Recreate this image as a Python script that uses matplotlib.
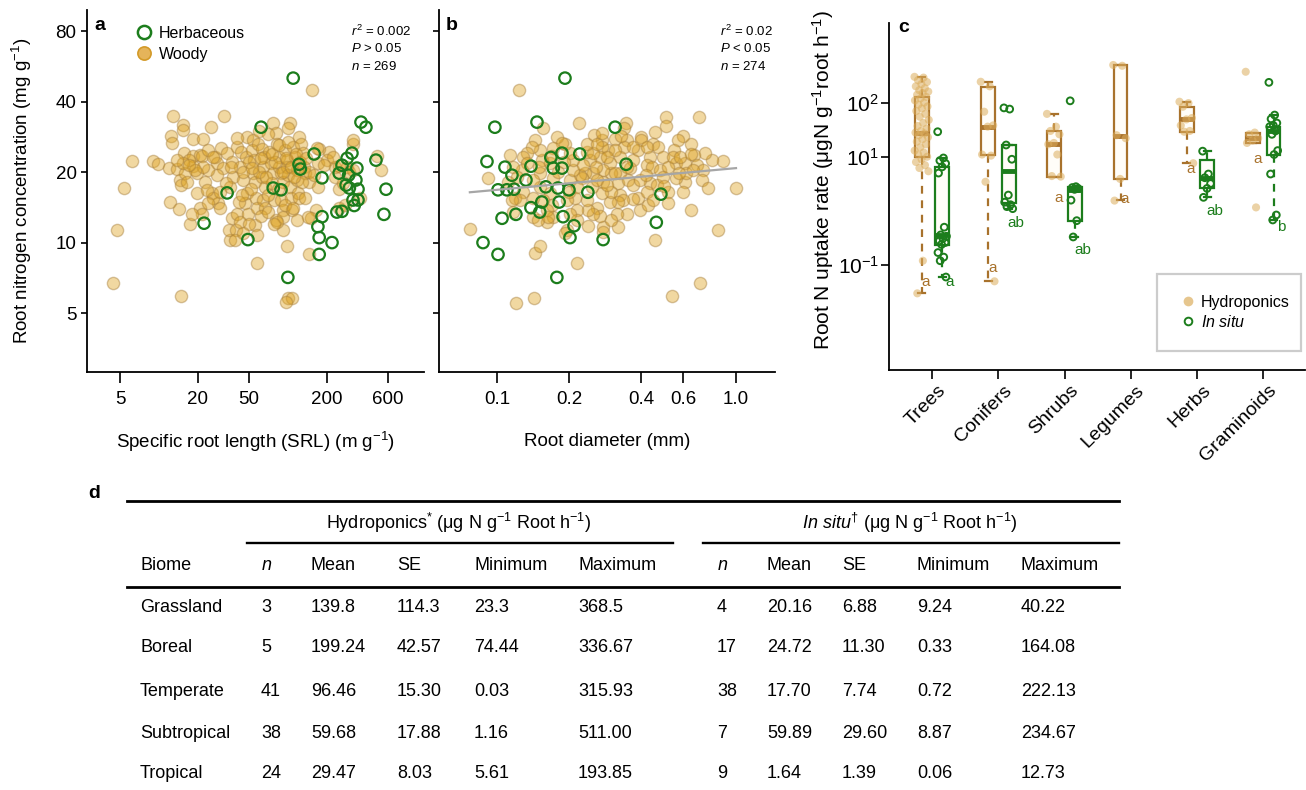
import numpy as np
import matplotlib
matplotlib.use("Agg")
import matplotlib.pyplot as plt
from matplotlib.lines import Line2D
from matplotlib.patches import Rectangle
from matplotlib.ticker import FixedLocator, NullLocator, FixedFormatter
import matplotlib.transforms as mtransforms

plt.rcParams['font.family'] = ['Liberation Sans', 'DejaVu Sans']
plt.rcParams['mathtext.fontset'] = 'custom'
plt.rcParams['mathtext.rm'] = 'Liberation Sans'
plt.rcParams['mathtext.it'] = 'Liberation Sans:italic'
plt.rcParams['mathtext.bf'] = 'Liberation Sans:bold'

# ---------------- data: panel a (SRL vs root N) ----------------
a_woody_srl = [4.4, 4.7, 5.4, 6.2, 14.9, 154, 100, 108, 97, 58, 99, 146, 35.5, 17.4, 12.1, 14.3,
               12.9, 15.5, 15.5, 12.4, 12.6, 32, 25.4, 18.4, 21.9, 77, 81, 103, 101, 48.5, 54, 123,
               320, 493, 530, 208, 175, 147, 171, 232, 362, 165, 150, 9, 9.8, 11.9, 13.7, 14.6,
               14.9, 15.7, 18.4, 18.4, 19.6, 20.8, 21.5, 19.6, 20.8, 21.5, 22.7, 25.8, 27, 28.1,
               28.6, 29.7, 30.3, 31.5, 33.8, 37, 37.7, 35.5, 37, 35, 39.6, 40.5, 40.5, 43.2, 47.5,
               42.4, 45, 48.5, 46.4, 49, 41.6, 52.7, 54.8, 53.7, 55.7, 56.8, 57.9, 55.7, 59, 63,
               65.5, 64.3, 63, 66.8, 64.3, 66.8, 72, 73.4, 76.3, 75, 78, 81, 82.5, 85.7, 86, 89,
               91, 89, 91, 91, 95, 98, 98, 100, 103, 106, 108, 110, 114, 117, 118, 120, 123, 127,
               130, 133, 137, 128, 137, 168, 171, 200, 232, 224, 320, 288, 277, 251, 143, 91, 83,
               42.4, 38.9, 26.2, 24.1, 23.7, 16, 16.5, 17.1, 24.1, 26.2, 18.1, 15.5, 13.9,
               45, 50, 52, 60, 62, 68, 70, 80, 84, 92, 96, 105, 112, 115, 125, 62, 70, 78, 44, 36,
               33, 28, 24, 22, 19, 17, 30, 50, 58, 45, 53, 75, 86, 101, 138, 145, 160, 190, 250,
               270, 300, 60, 70, 40, 95, 110, 118, 251, 320]
a_woody_n = [6.7, 11.3, 17.1, 22.2, 5.9, 44.8, 5.8, 5.8, 5.6, 8.2, 9.7, 8.9, 10.3, 12, 14.9, 13.9,
             34.7, 31.8, 30.2, 28.6, 26.7, 34.7, 31.1, 27.6, 27.6, 32.4, 29.3, 32.4, 30.9, 28.2, 27.4, 28.2,
             26.4, 23.4, 20.4, 24.3, 25, 18.2, 17.3, 19, 15.5, 13.8, 12.7, 22.2, 21.6, 20.8, 20.6, 18.5,
             17.6, 24.1, 23.4, 21.2, 19.8, 23.7, 23.4, 16.3, 14.1, 13.3, 18.2, 16.3, 23.1, 21.8,
             14.7, 14, 25.3, 20.8, 24.1, 22, 19, 17.3, 12.7, 11.3, 11.3, 13.3, 25.6, 24.3, 23.1,
             21, 18.5, 16.3, 14.7, 13.3, 14.9, 24.8, 22.5, 19.8, 18.2, 15.5, 14.1, 11.9, 26.4, 25,
             23.1, 21, 19, 17.3, 15.2, 14, 24.3, 21.8, 19.8, 18, 15.2, 12.5, 26.4, 23.1, 21, 19.8,
             18.2, 15.2, 13.8, 12.9, 24.8, 22.5, 21, 19.4, 17.3, 15.5, 13.8, 25.6, 23.1, 20.4, 18.5, 16.3, 15.5, 26.4,
             24.1, 21, 19.8, 18.2, 15.5, 25.3, 21.8, 22.5, 21, 23.1, 27.4, 21, 14.4, 14, 12.9, 11.3, 12.3,
             12.3, 10.3, 15.5, 14.7, 16.8, 19.8, 18.2, 22.5, 24.8, 23.1, 13.3, 21.8, 22.5,
             20, 22, 17, 20, 23, 19, 16, 22, 17, 20, 23, 21, 19, 24, 22, 13, 13.5, 12, 16, 21,
             18, 19.5, 20.5, 21, 20.5, 21.5, 16.5, 12, 10.8, 11, 20.8, 24, 26, 27, 23, 20, 19.5, 21.5, 17,
             18, 20, 30, 29, 28, 14.5, 14, 12.5, 21.2, 20.4]
a_herb_srl = [110, 62, 369, 403, 160, 122, 125, 184, 314, 288, 263, 343, 250, 296, 337, 283, 300,
              350, 320, 350, 327, 240, 263, 482, 577, 556, 184, 171, 175, 220, 175, 100, 88.5, 77,
              33.8, 22.4, 49]
a_herb_n = [50.4, 31.1, 32.7, 31.1, 23.9, 21.6, 20.6, 18.9, 24.1, 22.9, 21.4, 20.8, 19.8, 19.4, 18.5,
            17.6, 17.1, 16.9, 15.2, 15.2, 14.4, 13.5, 13.6, 22.5, 16.9, 13.2, 12.9, 11.7, 10.5, 10,
            8.9, 7.1, 16.8, 17.1, 16.3, 12.1, 10.3]

# ---------------- data: panel b (diameter vs root N) ----------------
b_woody_d = [0.1236, 0.077, 0.0917, 0.120, 0.143, 0.54, 0.71, 0.84, 1.0, 0.70, 0.51, 0.51, 0.22, 0.156,
             0.347, 0.34, 0.65, 0.46, 0.216, 0.144, 0.151, 0.278, 0.278, 0.32, 0.88, 0.79, 0.74, 0.67,
             0.65, 0.60, 0.57, 0.55, 0.56, 0.61, 0.69, 0.73, 0.72, 0.76, 0.61, 0.56, 0.52, 0.52, 0.46,
             0.45, 0.47, 0.437, 0.424, 0.446, 0.481, 0.437, 0.467, 0.40, 0.40, 0.39, 0.37, 0.36, 0.39,
             0.396, 0.37, 0.43, 0.35, 0.34, 0.327, 0.327, 0.32, 0.327, 0.337, 0.35, 0.318, 0.32, 0.297,
             0.30, 0.30, 0.297, 0.29, 0.275, 0.255, 0.275, 0.27, 0.278, 0.278, 0.275, 0.262, 0.27,
             0.252, 0.24, 0.238, 0.25, 0.252, 0.245, 0.238, 0.252, 0.233, 0.227, 0.222, 0.216, 0.212,
             0.216, 0.216, 0.196, 0.202, 0.196, 0.202, 0.208, 0.208, 0.202, 0.192, 0.178, 0.187, 0.172,
             0.167, 0.172, 0.167, 0.170, 0.172, 0.162, 0.162, 0.156, 0.151, 0.151, 0.154, 0.151, 0.144,
             0.14, 0.134, 0.129, 0.134, 0.127, 0.141, 0.129, 0.119, 0.125, 0.141, 0.141, 0.148, 0.163,
             0.192, 0.117, 0.121, 0.111, 0.116, 0.117, 0.113, 0.238, 0.262, 0.275, 0.312, 0.312, 0.289,
             0.262, 0.289, 0.312, 0.353, 0.37, 0.396, 0.424, 0.45, 0.495, 0.52, 0.545, 0.583, 0.62,
             0.66, 0.58, 0.495, 0.424, 0.37, 0.18, 0.19, 0.23, 0.26, 0.35, 0.42, 0.5, 0.6, 0.65, 0.15,
             0.2, 0.17, 0.24, 0.3, 0.33]
b_woody_n = [44.8, 11.4, 18.9, 5.5, 5.8, 5.9, 6.7, 11.3, 17.1, 34.3, 34.3, 31.5, 32.4, 30.9,
             32.4, 30.9, 13.8, 10.3, 8.2, 9, 9.7, 11.7, 11.1, 11.6, 22.2, 22.5, 24.1, 23.7,
             26.4, 28.6, 27.4, 24.8, 21.8, 21.8, 21.4, 20.4, 18.5, 17.1, 18.2, 18.9, 16.4, 14.7, 29.6,
             26.4, 25.6, 23.1, 21.4, 21, 20.4, 18, 17.6, 28.2, 27.4, 24.8, 22.5, 20.8, 15.5,
             13.8, 15.4, 14.4, 27.4, 25.6, 23.1, 19.8, 18, 16, 15.2, 13.3, 13.3, 14.9, 14.9,
             16.4, 19.8, 21.8, 24.8, 27.4, 28.9, 25.6, 23.1, 20.4, 18.2, 16.3, 14.1, 13,
             13.3, 13.8, 15.2, 17.3, 19.8, 22.5, 24.3, 24.1, 19.8, 18.9, 19.4, 17.3, 15.5,
             13.8, 12.5, 11.3, 13.3, 15.2, 18.5, 20.4, 22.5, 24.1, 26.4, 28.2, 26.7, 25.3,
             21.8, 18.9, 16.3, 14.4, 12.9, 12.2, 13.8, 15.2, 17.3, 19.8, 22.5, 24.8, 27.4,
             25.6, 24.1, 23.1, 21.8, 20.4, 18.5, 16.4, 15.5, 15.2, 15.5, 12.9, 12.5, 12.9,
             11, 21, 19, 18.2, 15.2, 13.5, 23.7, 26.4, 26.4, 29.3, 27.6, 24.8, 23.1,
             18.5, 17.6, 19.8, 18.5, 17.6, 18.5, 16.4, 15.2, 23.1, 21, 23.1, 23.1, 19.8,
             20.4, 19.8, 19, 25.6, 25.6, 20, 22, 21.5, 21, 21, 19.5, 17.5, 16.5, 24, 21,
             16.5, 23.5, 11.8, 12.5, 28.5]
b_herb_d = [0.1925, 0.098, 0.147, 0.312, 0.0908, 0.108, 0.1155, 0.1387, 0.1322, 0.101, 0.110, 0.1178,
            0.160, 0.168, 0.172, 0.187, 0.187, 0.222, 0.180, 0.2, 0.24, 0.347, 0.485, 0.154, 0.1387,
            0.151, 0.182, 0.120, 0.105, 0.189, 0.21, 0.202, 0.278, 0.464, 0.0874, 0.101, 0.178]
b_herb_n = [50.4, 31.1, 32.7, 31.1, 22.2, 21, 19.4, 21.2, 18.5, 16.8, 16.8, 16.9,
            17.3, 23.1, 20.8, 20.8, 24.1, 23.9, 17.1, 16.8, 16.4, 21.6, 16.1, 14.9, 14.1,
            13.5, 14.9, 13.2, 12.7, 12.9, 11.8, 10.5, 10.3, 12.2, 10, 8.9, 7.1]
b_trend_d = [0.077, 1.0]
b_trend_n = [16.4, 20.8]

# ---------------- data: panel c (uptake by plant group) ----------------
groups = ['Trees', 'Conifers', 'Shrubs', 'Legumes', 'Herbs', 'Graminoids']
# box stats: whisker low, q1, median, q3, whisker high
hydro_stats = [(0.03, 10, 28, 128, 300),
               (0.05, 11, 36, 197, 243),
               (4.3, 4.3, 17, 30, 62),
               (1.58, 3.9, 24, 496, 496),
               (7.6, 29, 49, 84, 104),
               (17.7, 17.7, 22, 28, 28)]
insitu_stats = [(0.06, 0.23, 0.36, 6.5, 9.5),
                (1.1, 1.38, 5.4, 16.5, 16.5),
                (0.33, 0.66, 2.4, 2.8, 2.8),
                None,
                (1.78, 2.6, 4.1, 8.7, 12.9),
                (0.68, 10.7, 30, 36, 59)]
hydro_pts = [[300, 290, 260, 240, 220, 200, 185, 170, 160, 150, 140, 128, 120, 110, 100, 92, 85, 78,
              70, 62, 55, 48, 42, 37, 33, 30, 28, 27, 25, 23, 21, 19, 17, 15, 13, 12, 11, 10, 9, 8,
              7, 6.2, 5.4, 0.12, 0.03],
             [243, 200, 68, 38, 36, 11, 10.5, 3.45, 0.05],
             [62, 36, 30, 26, 18, 17, 11, 4.4, 4.3],
             [496, 480, 25, 22, 3.9, 1.55],
             [104, 98, 84, 52, 49, 38, 30, 29, 7.6],
             [372, 28, 26, 22, 20, 18, 1.16]]
insitu_pts = [[29, 9.5, 8.5, 7.5, 6.5, 5, 0.5, 0.36, 0.34, 0.31, 0.28, 0.26, 0.24, 0.17, 0.14, 0.12, 0.06],
              [80, 76, 16.5, 9, 1.96, 1.45, 1.3, 1.2, 1.1],
              [108, 2.8, 2.7, 2.6, 2.5, 1.58, 0.66, 0.33],
              [],
              [12.7, 4.8, 4.1, 3.2, 2.6, 1.78],
              [237, 59, 50, 42, 38, 36, 30, 26, 13, 11, 4.8, 0.84, 0.68]]
hydro_letters = ['a', 'a', 'a', 'a', 'a', 'a']
hydro_letter_y = [0.049, 0.088, 1.75, 1.65, 5.9, 9.1]
insitu_letters = ['a', 'ab', 'ab', None, 'ab', 'b']
insitu_letter_y = [0.049, 0.6, 0.19, None, 0.99, 0.51]

# ---------------- data: panel d (table) ----------------
biomes = ['Grassland', 'Boreal', 'Temperate', 'Subtropical', 'Tropical']
hydro_n = ['3', '5', '41', '38', '24']
hydro_mean = ['139.8', '199.24', '96.46', '59.68', '29.47']
hydro_se = ['114.3', '42.57', '15.30', '17.88', '8.03']
hydro_min = ['23.3', '74.44', '0.03', '1.16', '5.61']
hydro_max = ['368.5', '336.67', '315.93', '511.00', '193.85']
insitu_n = ['4', '17', '38', '7', '9']
insitu_mean = ['20.16', '24.72', '17.70', '59.89', '1.64']
insitu_se = ['6.88', '11.30', '7.74', '29.60', '1.39']
insitu_min = ['9.24', '0.33', '0.72', '8.87', '0.06']
insitu_max = ['40.22', '164.08', '222.13', '234.67', '12.73']

# ---------------- styling ----------------
W, H = 1306, 790
WOODY_FACE = (0.87, 0.64, 0.13, 0.42)
WOODY_EDGE = (0.66, 0.50, 0.24, 0.45)
GREEN = '#1c7d1c'
BROWN = '#a8722c'
TAN = '#dcae5e'


def fx(px):
    return px / W


def fy(py):
    return 1 - py / H


fig = plt.figure(figsize=(W / 100, H / 100), dpi=100)


def style_axes(ax, xlen, ylen):
    for s in ['top', 'right']:
        ax.spines[s].set_visible(False)
    for s in ['left', 'bottom']:
        ax.spines[s].set_linewidth(1.3)
    ax.tick_params(axis='x', length=xlen, width=1.2, pad=6)
    ax.tick_params(axis='y', length=ylen, width=1.2, pad=3)
    ax.minorticks_off()


# panel a
ax_a = fig.add_axes([fx(87), fy(372), fx(424) - fx(87), fy(10) - fy(372)])
ax_a.set_xscale('log')
ax_a.set_yscale('log')
ax_a.scatter(a_woody_srl, a_woody_n, s=78, facecolor=WOODY_FACE, edgecolor=WOODY_EDGE, linewidth=1.0, zorder=2)
ax_a.scatter(a_herb_srl, a_herb_n, s=68, facecolor='none', edgecolor=GREEN, linewidth=1.6, zorder=3)
ax_a.set_xlim(2.77, 1137)
ax_a.set_ylim(2.8, 98.5)
style_axes(ax_a, 8, 4.5)
ax_a.xaxis.set_major_locator(FixedLocator([5, 20, 50, 200, 600]))
ax_a.xaxis.set_major_formatter(FixedFormatter(['5', '20', '50', '200', '600']))
ax_a.xaxis.set_minor_locator(NullLocator())
ax_a.yaxis.set_major_locator(FixedLocator([5, 10, 20, 40, 80]))
ax_a.yaxis.set_major_formatter(FixedFormatter(['5', '10', '20', '40', '80']))
ax_a.yaxis.set_minor_locator(NullLocator())
ax_a.tick_params(labelsize=13.5)
ax_a.set_xlabel('Specific root length (SRL) (m g$^{-1}$)', fontsize=13.5, va='center')
ax_a.xaxis.set_label_coords(0.5, -0.193)
ax_a.set_ylabel('Root nitrogen concentration (mg g$^{-1}$)', fontsize=13.5, va='center')
ax_a.yaxis.set_label_coords(-0.193, 0.5)
leg_handles = [Line2D([], [], marker='o', ls='none', ms=9.5, mfc='none', mec=GREEN, mew=1.8),
               Line2D([], [], marker='o', ls='none', ms=9.5, mfc='#e5b45a', mec='#d39a28', mew=1.2)]
ax_a.legend(leg_handles, ['Herbaceous', 'Woody'], loc='upper left', bbox_to_anchor=(0.092, 1.0),
            frameon=False, fontsize=11.5, handletextpad=0.35, labelspacing=0.38, borderaxespad=0.6,
            handlelength=1.2)

# panel b
ax_b = fig.add_axes([fx(439), fy(372), fx(775) - fx(439), fy(10) - fy(372)])
ax_b.set_xscale('log')
ax_b.set_yscale('log')
ax_b.scatter(b_woody_d, b_woody_n, s=78, facecolor=WOODY_FACE, edgecolor=WOODY_EDGE, linewidth=1.0, zorder=2)
ax_b.scatter(b_herb_d, b_herb_n, s=68, facecolor='none', edgecolor=GREEN, linewidth=1.6, zorder=3)
ax_b.plot(b_trend_d, b_trend_n, color='#a6a6a6', lw=1.6, zorder=4)
ax_b.set_xlim(0.0572, 1.456)
ax_b.set_ylim(2.8, 98.5)
style_axes(ax_b, 8, 4.5)
ax_b.xaxis.set_major_locator(FixedLocator([0.1, 0.2, 0.4, 0.6, 1.0]))
ax_b.xaxis.set_major_formatter(FixedFormatter(['0.1', '0.2', '0.4', '0.6', '1.0']))
ax_b.xaxis.set_minor_locator(NullLocator())
ax_b.yaxis.set_major_locator(FixedLocator([5, 10, 20, 40, 80]))
ax_b.yaxis.set_major_formatter(FixedFormatter([''] * 5))
ax_b.yaxis.set_minor_locator(NullLocator())
ax_b.tick_params(labelsize=13.5)
ax_b.set_xlabel('Root diameter (mm)', fontsize=13.5, va='center')
ax_b.xaxis.set_label_coords(0.5, -0.193)

# stats text a / b
for x0, lines in [(351, ['$r^2$ = 0.002', '$P$ > 0.05', '$n$ = 269']),
                  (720, ['$r^2$ = 0.02', '$P$ < 0.05', '$n$ = 274'])]:
    for py, t in zip([31, 48, 66], lines):
        fig.text(fx(x0), fy(py), t, fontsize=9.5, ha='left', va='center')

# panel c
ax_c = fig.add_axes([fx(889), fy(370), fx(1305) - fx(889), fy(23) - fy(370)])
ax_c.set_yscale('log')
pos = np.arange(1, len(groups) + 1)
off = 0.155
bw = 0.21


def box_list(stats_list):
    out, where = [], []
    for i, st in enumerate(stats_list):
        if st is None:
            continue
        lo, q1, med, q3, hi = st
        out.append(dict(whislo=lo, q1=q1, med=med, q3=q3, whishi=hi, fliers=[]))
        where.append(i)
    return out, where


for stats_list, sign, col in [(hydro_stats, -1, BROWN), (insitu_stats, 1, GREEN)]:
    bs, where = box_list(stats_list)
    ax_c.bxp(bs, positions=[pos[i] + sign * off for i in where], widths=bw, showfliers=False,
             patch_artist=True, manage_ticks=False, capwidths=bw * 0.5,
             boxprops=dict(facecolor='#fffdf8', edgecolor=col, linewidth=1.6),
             medianprops=dict(color=col, linewidth=3.5, solid_capstyle='butt'),
             whiskerprops=dict(color=col, linewidth=1.6, linestyle=(0, (3.5, 3))),
             capprops=dict(color=col, linewidth=1.6), zorder=2)

for i, vals in enumerate(hydro_pts):
    k = np.arange(len(vals))
    jit = ((k * 0.618) % 1 - 0.5) * 0.22
    ax_c.scatter(pos[i] - off + jit, vals, s=34, color=TAN, alpha=0.55, edgecolor='none', zorder=3)
for i, vals in enumerate(insitu_pts):
    if not vals:
        continue
    k = np.arange(len(vals))
    jit = ((k * 0.618) % 1 - 0.5) * 0.14
    ax_c.scatter(pos[i] + off + jit, vals, s=24, facecolor='none', edgecolor=GREEN, linewidth=1.4, zorder=3)

for i in range(len(groups)):
    ax_c.text(pos[i] - off + 0.065, hydro_letter_y[i], hydro_letters[i], color=BROWN, fontsize=11,
              ha='center', va='center', zorder=5)
    if insitu_letters[i]:
        ax_c.text(pos[i] + off + 0.115, insitu_letter_y[i], insitu_letters[i], color=GREEN, fontsize=11,
                  ha='center', va='center', zorder=5)

ax_c.set_xlim(0.35, 6.63)
ax_c.set_ylim(0.00115, 2960)
style_axes(ax_c, 6.5, 6)
ax_c.set_xticks(pos)
ax_c.set_xticklabels(groups, rotation=45, ha='right', va='top', rotation_mode='anchor', fontsize=14)
ax_c.tick_params(axis='x', pad=2)
shift = mtransforms.ScaledTranslation(5 / 100, 0, fig.dpi_scale_trans)
for lab in ax_c.get_xticklabels():
    lab.set_transform(lab.get_transform() + shift)
ax_c.yaxis.set_major_locator(FixedLocator([0.1, 10, 100]))
ax_c.yaxis.set_major_formatter(FixedFormatter(['$10^{-1}$', '$10^{1}$', '$10^{2}$']))
ax_c.yaxis.set_minor_locator(NullLocator())
ax_c.tick_params(axis='y', labelsize=15, pad=1)
ax_c.set_ylabel('Root N uptake rate (μgN g$^{-1}$root h$^{-1}$)', fontsize=15, va='center')
ax_c.yaxis.set_label_coords(-0.159, 0.548)

ax_c.add_patch(Rectangle((0.644, 0.055), 0.346, 0.222, transform=ax_c.transAxes, fill=False,
                         edgecolor='#cccccc', linewidth=1.6, clip_on=False, zorder=6))
c_handles = [Line2D([], [], marker='o', ls='none', ms=7, mfc=TAN, mec='none', alpha=0.7),
             Line2D([], [], marker='o', ls='none', ms=5.5, mfc='none', mec=GREEN, mew=1.4)]
ax_c.legend(c_handles, ['Hydroponics', '$\\mathit{In\\ situ}$'], loc='center left',
            bbox_to_anchor=(0.685, 0.166), frameon=False, fontsize=11.5, handletextpad=0.3,
            labelspacing=0.25, handlelength=1.0, borderaxespad=0)

# panel labels
for t, x, y in [('a', 100, 25), ('b', 452, 25), ('c', 904, 28), ('d', 94, 493)]:
    fig.text(fx(x), fy(y), t, fontsize=14, fontweight='bold', ha='center', va='center')

# panel d: table
ax_t = fig.add_axes([0, 0, 1, 1], zorder=-1)
ax_t.set_xlim(0, W)
ax_t.set_ylim(H, 0)
ax_t.axis('off')
ax_t.plot([127, 1119], [501, 501], color='black', lw=2.0)
ax_t.plot([247, 673], [543, 543], color='black', lw=1.7)
ax_t.plot([703, 1119], [543, 543], color='black', lw=1.7)
ax_t.plot([127, 1119], [587, 587], color='black', lw=2.0)

tfs = 13
ax_t.text(459, 523, 'Hydroponics$^{*}$ (μg N g$^{-1}$ Root h$^{-1}$)', fontsize=tfs, ha='center', va='center')
ax_t.text(910, 523, '$\\mathit{In\\ situ}^{\\dagger}$ (μg N g$^{-1}$ Root h$^{-1}$)', fontsize=tfs,
          ha='center', va='center')

col_x = [140, 261, 311, 397, 474, 578, 717, 767, 842, 917, 1021]
heads = ['Biome', '$n$', 'Mean', 'SE', 'Minimum', 'Maximum', '$n$', 'Mean', 'SE', 'Minimum', 'Maximum']
for x, h in zip(col_x, heads):
    ax_t.text(x, 566, h, fontsize=tfs, ha='left', va='center')

row_y = [608, 648, 691, 733, 773]
columns = [biomes, hydro_n, hydro_mean, hydro_se, hydro_min, hydro_max,
           insitu_n, insitu_mean, insitu_se, insitu_min, insitu_max]
for x, colvals in zip(col_x, columns):
    for y, v in zip(row_y, colvals):
        ax_t.text(x, y, v, fontsize=tfs, ha='left', va='center')

fig.savefig('out.png', dpi=100)
